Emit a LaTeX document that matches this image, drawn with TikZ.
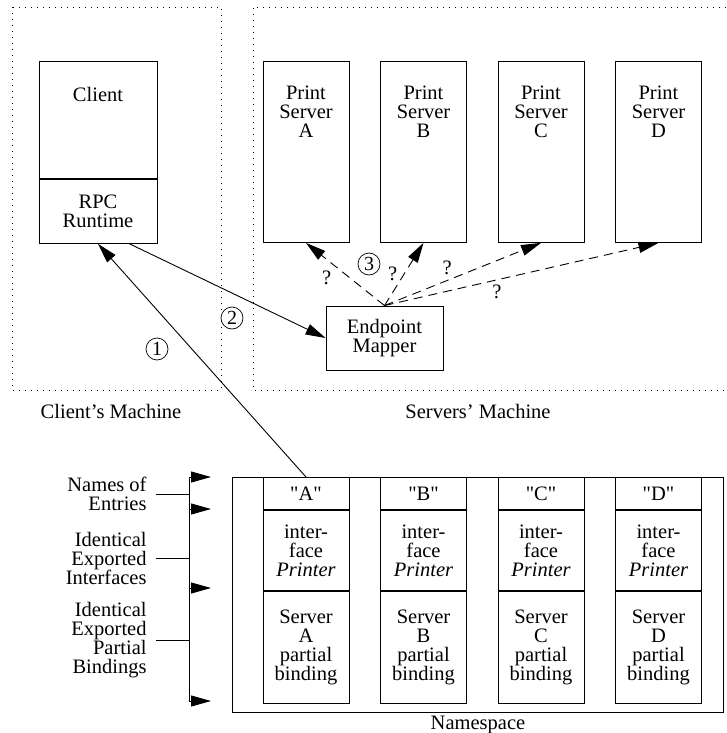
\documentclass[tikz,border=0pt]{standalone}
\usepackage{fontspec}
\setmainfont{Liberation Serif}
\newfontfamily\plainquote{Liberation Serif}[Ligatures=TeXOff]
\usetikzlibrary{arrows.meta,positioning,calc}

\begin{document}
\begin{tikzpicture}[x=1pt,y=-1pt,
  font=\fontsize{20.5}{19}\selectfont,
  line width=0.9pt,
  box/.style={draw,inner sep=0pt,align=center},
  mach/.style={draw,dash pattern=on 1pt off 5pt},
  num/.style={circle,draw,line width=0.7pt,inner sep=0pt,minimum size=22pt,font=\fontsize{20}{20}\selectfont},
  ask/.style={dash pattern=on 9pt off 6pt},
  lbl/.style={anchor=east,align=right,inner sep=0pt},
  >={Triangle[length=20pt,width=11pt]}]
  \useasboundingbox (0,0) rectangle (726,733);
  % machines
  \draw[mach] (12,7) rectangle (221,390);
  \draw[mach] (726,7) -- (253,7) -- (253,390) -- (726,390);
  \node (cmach) at (111,411) {Client's Machine};
  \node (smach) at (478,411) {Servers' Machine};
  % client
  \node[box,minimum width=118pt,minimum height=117pt,anchor=north] (client) at (98,61) {};
  \node[below=26pt of client.north,inner sep=0pt] (clienttxt) {Client};
  \node[box,minimum width=118pt,minimum height=64pt,anchor=north] (rpc) at (client.south) {RPC\\Runtime};
  % print servers
  \foreach \s [count=\i from 0] in {A,B,C,D} {
    \node[box,minimum width=86pt,minimum height=181pt,anchor=north] (srv\s) at ({306+117.5*\i},61) {};
    \node[below=24pt of srv\s.north,inner sep=0pt,align=center] (srvtxt\s) {Print\\Server\\\s};
  }
  \node[box,minimum width=117pt,minimum height=64pt] (mapper) at (384.5,338) {Endpoint\\Mapper};
  % connectors
  \draw[->] ([xshift=-28pt]rpc.south east) -- (mapper.west);
  \node[num] (n2) at (232,318) {2};
  \draw[->,ask] (mapper.north) -- node[pos=0.62,below left=1pt] (qA) {?} (srvA.south);
  \draw[->,ask] (mapper.north) -- node[pos=0.5,left=3pt] (qB) {?} (srvB.south);
  \draw[->,ask] (mapper.north) -- node[pos=0.4,above=2pt] (qC) {?} (srvC.south);
  \draw[->,ask] (mapper.north) -- node[pos=0.41,below=1pt] (qD) {?} (srvD.south);
  \node[num] (n3) at (369,264) {3};
  % namespace
  \node[draw,inner sep=0pt,minimum width=491pt,minimum height=235pt,anchor=north west] (ns) at (232,477) {};
  \node[below=3pt of ns.south,inner sep=0pt] (nstxt) {Namespace};
  \foreach \s [count=\i from 0] in {A,B,C,D} {
    \node[box,minimum width=86pt,minimum height=32pt,anchor=north] (nm\s) at ({306+117.5*\i},477) {{\plainquote"\s"}};
    \node[box,minimum width=86pt,minimum height=80pt,anchor=north] (if\s) at (nm\s.south) {inter-\\face\\\textit{Printer}};
    \node[box,minimum width=86pt,minimum height=112pt,anchor=north] (bd\s) at (if\s.south) {Server\\\s\\partial\\binding};
  }
  \draw[->] (nmA.north) -- (rpc.south);
  \node[num] (n1) at (157,349) {1};
  % legend
  \coordinate (brtop) at (189,477);
  \coordinate (brbot) at (189,701);
  \draw (brtop) -- (brbot);
  \foreach \y [count=\i] in {477,509,588,701} {
    \coordinate (bt\i) at (189,\y);
    \draw[->] (bt\i) -- ++(22,0);
  }
  \node[lbl] (lnames) at (147,494) {Names of\\Entries};
  \node[lbl] (lifaces) at (147,558) {Identical\\Exported\\Interfaces};
  \node[lbl] (lbinds) at (147,640) {Identical\\Exported\\Partial\\Bindings};
  \foreach \l in {lnames,lifaces,lbinds}
    \draw ([xshift=9pt]\l.east) -- (\l.east -| brtop);
\end{tikzpicture}
\end{document}
